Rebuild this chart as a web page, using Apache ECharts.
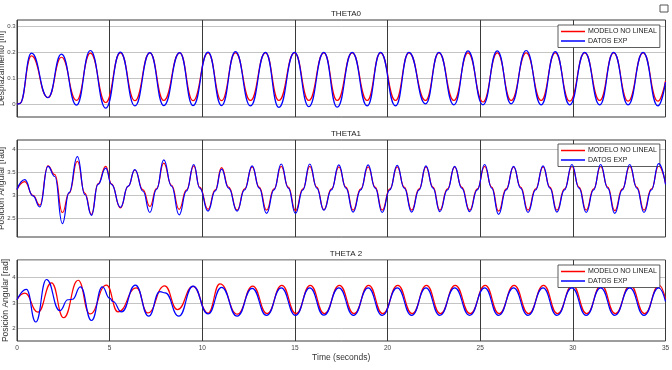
<!DOCTYPE html>
<html><head><meta charset="utf-8">
<script src="https://cdn.jsdelivr.net/npm/echarts@6/dist/echarts.min.js"></script>
<style>html,body{margin:0;padding:0;background:#fff}#c{width:672px;height:370px}</style>
</head><body><div id="c"></div>
<script>
// ---------- text ----------
const seriesNames = ['MODELO NO LINEAL', 'DATOS EXP'];
const titles = ['THETA0', 'THETA1', 'THETA 2'];
const yNames = ['Desplazamiento [m]', 'Posición Angular [rad]', 'Posición Angular [rad]'];
const xName = 'Time (seconds)';
const xTickLabels = ['0', '5', '10', '15', '20', '25', '30', '35'];
const yTickLabels0 = [0, 0.1, 0.2, 0.3];
const yTickLabels1 = [2.5, 3, 3.5, 4];
const yTickLabels2 = [2, 3, 4];

// ---------- THETA0 (shared time points: extremes) ----------
const t0 = [0, 0.15,
  0.78, 1.67, 2.40, 3.21, 3.96, 4.79, 5.58, 6.36, 7.17, 7.92, 8.78, 9.50, 10.31, 11.04,
  11.79, 12.60, 13.41, 14.13, 14.98, 15.75, 16.56, 17.28, 18.09, 18.90, 19.62, 20.43,
  21.15, 22.05, 22.77, 23.58, 24.34, 25.15, 25.92, 26.67, 27.48, 28.29, 29.05, 29.83,
  30.64, 31.45, 32.20, 32.98, 33.79, 34.59, 35];
const theta0Exp = [0, 0.002,
  0.197, 0.025, 0.193, -0.004, 0.207, -0.016, 0.201, -0.007, 0.199, -0.006, 0.199, -0.006, 0.201, -0.006,
  0.203, -0.007, 0.200, -0.013, 0.200, -0.010, 0.200, -0.012, 0.200, -0.007, 0.200, -0.007,
  0.200, 0.001, 0.200, -0.003, 0.206, -0.003, 0.206, 0.001, 0.207, -0.003, 0.203, -0.003,
  0.200, -0.003, 0.200, -0.003, 0.200, -0.007, 0.085];
const theta0Model = [0, 0.003,
  0.186, 0.025, 0.181, 0.014, 0.197, 0.006, 0.198, 0.013, 0.198, 0.014, 0.198, 0.013, 0.198, 0.013,
  0.198, 0.014, 0.198, 0.014, 0.198, 0.014, 0.198, 0.014, 0.198, 0.014, 0.198, 0.014,
  0.198, 0.014, 0.198, 0.014, 0.198, 0.008, 0.198, 0.014, 0.198, 0.014, 0.198, 0.011,
  0.198, 0.014, 0.198, 0.011, 0.198, 0.011, 0.09];

// ---------- THETA1 (extremes + shoulders) ----------
const t1 = [0, 0.42, 0.86, 1.23, 1.67, 2.04, 2.45, 2.81, 3.26, 3.66, 4.02, 4.37, 4.79, 5.10,
  5.58, 6.00, 6.36, 6.80, 7.17, 7.53, 7.92, 8.34, 8.75, 9.15, 9.54, 9.86, 10.31, 10.70, 11.04,
  11.42, 11.88, 12.28, 12.69,
  13.07, 13.47, 13.87, 14.26,
  14.64, 15.03, 15.43, 15.80,
  16.18, 16.56, 16.97, 17.37,
  17.75, 18.14, 18.55, 18.95,
  19.33, 19.71, 20.12, 20.52,
  20.90, 21.30, 21.70, 22.07,
  22.45, 22.82, 23.23, 23.62,
  24.00, 24.43, 24.84, 25.24,
  25.62, 25.99, 26.40, 26.80,
  27.18, 27.58, 27.99, 28.39,
  28.76, 29.14, 29.55, 29.95,
  30.33, 30.72, 31.12, 31.50,
  31.88, 32.26, 32.67, 33.07,
  33.45, 33.84, 34.24, 34.63,
  35];
const theta1Exp = [3.13, 3.34, 2.99, 2.75, 3.63, 3.41, 2.39, 3.06, 3.84, 3.02, 2.57, 3.24, 3.59, 3.24,
  2.74, 3.20, 3.56, 3.09, 2.63, 3.13, 3.77, 3.20, 2.58, 3.10, 3.67, 3.16, 2.66, 3.10, 3.57,
  3.16, 2.66, 3.12, 3.64,
  3.16, 2.61, 3.12, 3.68,
  3.16, 2.61, 3.12, 3.68,
  3.16, 2.68, 3.12, 3.66,
  3.16, 2.64, 3.12, 3.66,
  3.16, 2.63, 3.12, 3.65,
  3.16, 2.64, 3.12, 3.64,
  3.16, 2.65, 3.12, 3.63,
  3.16, 2.65, 3.12, 3.67,
  3.16, 2.59, 3.12, 3.63,
  3.16, 2.63, 3.12, 3.64,
  3.16, 2.64, 3.12, 3.67,
  3.16, 2.63, 3.12, 3.67,
  3.16, 2.61, 3.12, 3.67,
  3.16, 2.63, 3.12, 3.69,
  3.24];
const theta1Model = [3.13, 3.30, 3.00, 2.79, 3.64, 3.45, 2.63, 3.05, 3.74, 3.05, 2.59, 3.25, 3.63, 3.25,
  2.73, 3.20, 3.55, 3.12, 2.76, 3.15, 3.70, 3.22, 2.70, 3.12, 3.64, 3.18, 2.70, 3.12, 3.60,
  3.18, 2.68, 3.14, 3.62,
  3.18, 2.68, 3.14, 3.63,
  3.18, 2.67, 3.14, 3.63,
  3.18, 2.69, 3.14, 3.62,
  3.18, 2.68, 3.14, 3.62,
  3.18, 2.68, 3.14, 3.62,
  3.18, 2.68, 3.14, 3.62,
  3.18, 2.68, 3.14, 3.62,
  3.18, 2.68, 3.14, 3.63,
  3.18, 2.66, 3.14, 3.62,
  3.18, 2.68, 3.14, 3.62,
  3.18, 2.68, 3.14, 3.63,
  3.18, 2.68, 3.14, 3.63,
  3.18, 2.67, 3.14, 3.63,
  3.18, 2.68, 3.14, 3.64,
  3.26];

// ---------- THETA 2 ----------
const t2Exp = [0, 0.51, 1.01, 1.59, 2.31, 2.75, 3.00, 3.42, 4.02, 4.61, 5.00, 5.18, 5.64, 6.39,
  7.11, 7.71, 8.00, 8.73, 9.50, 10.31, 11.04,
  11.88, 12.69, 13.47, 14.26, 15.03, 15.80, 16.56, 17.37, 18.16, 18.95, 19.71, 20.52,
  21.30, 22.07, 22.82, 23.62, 24.43, 25.24, 25.99, 26.80, 27.58, 28.39, 29.14, 29.95,
  30.72, 31.50, 32.26, 33.07, 33.84, 34.63, 35];
const theta2Exp = [3.13, 3.54, 2.25, 3.93, 2.70, 3.13, 3.15, 3.64, 2.31, 3.64, 3.19, 3.06, 2.65, 3.71,
  2.48, 3.45, 3.40, 2.48, 3.67, 2.57, 3.62,
  2.48, 3.58, 2.51, 3.60, 2.51, 3.60, 2.52, 3.60, 2.51, 3.60, 2.51, 3.60,
  2.51, 3.60, 2.51, 3.60, 2.51, 3.60, 2.51, 3.60, 2.51, 3.60, 2.51, 3.60,
  2.51, 3.60, 2.51, 3.60, 2.51, 3.60, 3.06];
const t2Model = [0, 0.42, 1.13, 1.86, 2.52, 3.30, 3.93, 4.83, 5.45, 6.45,
  7.05, 7.97, 8.66, 9.50, 10.31, 10.95,
  11.90, 12.72, 13.50, 14.29, 15.06, 15.83, 16.59, 17.40, 18.19, 18.98,
  19.74, 20.55, 21.33, 22.10, 22.85, 23.65, 24.46, 25.27, 26.02, 26.83,
  27.61, 28.42, 29.17, 29.98, 30.75, 31.53, 32.29, 33.10, 33.87, 34.66, 35];
const theta2Model = [3.13, 3.39, 2.64, 3.80, 2.42, 3.90, 2.57, 3.71, 2.65, 3.60,
  2.61, 3.68, 2.74, 3.66, 2.60, 3.76,
  2.56, 3.67, 2.58, 3.70, 2.58, 3.70, 2.58, 3.70, 2.58, 3.70,
  2.58, 3.70, 2.58, 3.70, 2.58, 3.70, 2.58, 3.70, 2.58, 3.70,
  2.58, 3.70, 2.58, 3.70, 2.58, 3.70, 2.58, 3.70, 2.58, 3.70, 3.15];

// ---------- layout ----------
const FONT = '"Liberation Sans", Arial, sans-serif';
const gridTops = [20, 140, 260];
const gridHeights = [97, 97, 81];
const yMin = [-0.05, 2.1, 1.5];
const yMax = [0.325, 4.2, 4.7];
const yStep = [0.05, 0.1, 0.5];
const yLabelSets = [yTickLabels0, yTickLabels1, yTickLabels2];
const yNameGaps = [10.5, 10.5, 7];
const legendTops = [25, 144, 265];
const titleTops = [5, 125, 245];

const pairs = (ts, vs) => ts.map((t, i) => [t, vs[i]]);
const dataSets = [
  [pairs(t0, theta0Model), pairs(t0, theta0Exp)],
  [pairs(t1, theta1Model), pairs(t1, theta1Exp)],
  [pairs(t2Model, theta2Model), pairs(t2Exp, theta2Exp)]
];
const colors = ['#ff0000', '#0000ff'];

function splitColors(i) {
  const step = yLabelSets[i][1] - yLabelSets[i][0];
  const n = Math.round(step / yStep[i]);
  const off = Math.round((yLabelSets[i][0] - yMin[i]) / yStep[i]) % n;
  const arr = new Array(n).fill('rgba(0,0,0,0)');
  arr[off] = '#c4c4c4';
  return arr;
}

const option = {
  animation: false,
  backgroundColor: '#fff',
  textStyle: { fontFamily: FONT },
  title: titles.map((t, i) => ({
    text: t, left: 341, top: titleTops[i], textAlign: 'center',
    textStyle: { fontSize: 8, fontWeight: 'normal', color: '#222', fontFamily: FONT }
  })),
  grid: [0, 1, 2].map(i => ({
    left: 17, width: 648.5, top: gridTops[i], height: gridHeights[i],
    containLabel: false, outerBoundsMode: 'none',
    show: true, borderColor: '#3a3a3a', borderWidth: 1, backgroundColor: 'rgba(0,0,0,0)'
  })),
  xAxis: [0, 1, 2].map(i => ({
    type: 'value', gridIndex: i, min: 0, max: 35, interval: 5,
    axisLine: { show: false }, axisTick: { show: false },
    splitLine: { show: true, lineStyle: { color: '#3a3a3a', width: 1 } },
    axisLabel: {
      show: i === 2, fontSize: 6.5, color: '#444', margin: 4, fontFamily: FONT,
      formatter: v => xTickLabels[Math.round(v / 5)] || ''
    },
    name: i === 2 ? xName : '', nameLocation: 'middle', nameGap: 12, nameMoveOverlap: false,
    nameTextStyle: { fontSize: 8.5, color: '#333', fontFamily: FONT }
  })),
  yAxis: [0, 1, 2].map(i => ({
    type: 'value', gridIndex: i, min: yMin[i], max: yMax[i], interval: yStep[i],
    axisLine: { show: false }, axisTick: { show: false },
    splitLine: { show: true, lineStyle: { color: splitColors(i), width: 1 } },
    axisLabel: {
      fontSize: 6, color: '#444', margin: 1.5, fontFamily: FONT,
      formatter: v => {
        const hit = yLabelSets[i].find(l => Math.abs(l - v) < 1e-6);
        return hit === undefined ? '' : String(hit);
      }
    },
    name: yNames[i], nameLocation: 'middle', nameRotate: 90, nameGap: yNameGaps[i],
    nameMoveOverlap: false,
    nameTextStyle: { fontSize: 8.5, color: '#333', fontFamily: FONT }
  })),
  legend: [0, 1, 2].map(i => ({
    data: seriesNames, orient: 'vertical', left: 558, top: legendTops[i],
    icon: 'rect', itemWidth: 24, itemHeight: 1.5, itemGap: 0.5,
    padding: [2, 3, 2, 3], borderColor: '#333', borderWidth: 0.8, backgroundColor: '#fff',
    selectedMode: false,
    textStyle: { fontSize: 7, color: '#222', lineHeight: 9, padding: [0, 0, 0, -2], fontFamily: FONT }
  })),
  graphic: [{
    type: 'rect', shape: { x: 660, y: 5, width: 8, height: 7 },
    style: { fill: '#fff', stroke: '#555', lineWidth: 1 }
  }],
  series: []
};

[0, 1, 2].forEach(i => {
  [0, 1].forEach(k => {
    option.series.push({
      type: 'line', name: seriesNames[k], xAxisIndex: i, yAxisIndex: i,
      data: dataSets[i][k], showSymbol: false, symbol: 'none',
      smooth: 0.5, smoothMonotone: 'x',
      lineStyle: { color: colors[k], width: 1.2 }, itemStyle: { color: colors[k] },
      z: 3 + k
    });
  });
});

const chart = echarts.init(document.getElementById('c'), null, { renderer: 'canvas' });
chart.setOption(option);
</script>
</body></html>
